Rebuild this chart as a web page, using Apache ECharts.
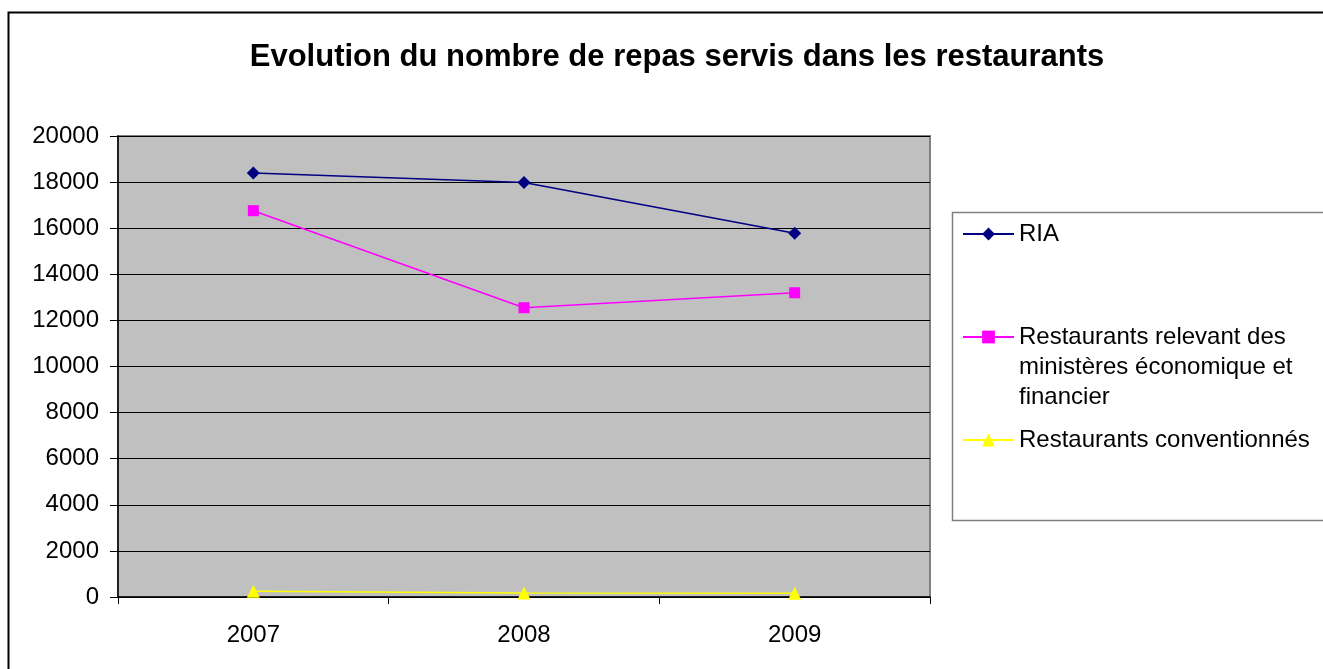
<!DOCTYPE html>
<html>
<head>
<meta charset="utf-8">
<script src="https://cdn.jsdelivr.net/npm/echarts@6/dist/echarts.min.js"></script>
<style>
  html, body { margin: 0; padding: 0; background: #fff; }
  #chart { width: 1323px; height: 669px; }
</style>
</head>
<body>
<div id="chart"></div>
<script>
  // données
  var years = ['2007', '2008', '2009'];
  var ria = [18400, 17980, 15780];
  var ministeres = [16760, 12550, 13200];
  var conventionnes = [250, 170, 160];
  var yTicks = [0, 2000, 4000, 6000, 8000, 10000, 12000, 14000, 16000, 18000, 20000];

  var font = '"Liberation Sans", Arial, sans-serif';
  var myChart = echarts.init(document.getElementById('chart'));

  // une légende par série, pour placer chaque entrée comme dans l'original
  function legendAt(name, top, text) {
    return {
      left: 957,
      top: top,
      orient: 'vertical',
      data: [name],
      itemWidth: 51,
      itemHeight: 16,
      itemGap: 0,
      selectedMode: false,
      formatter: function () { return text; },
      textStyle: {
        fontFamily: font,
        fontSize: 24,
        color: '#000',
        lineHeight: 30
      }
    };
  }

  var option = {
    backgroundColor: '#fff',
    animation: false,
    title: {
      text: 'Evolution du nombre de repas servis dans les restaurants',
      left: 672,
      top: 37,
      textAlign: 'center',
      textStyle: {
        fontFamily: font,
        fontSize: 31,
        fontWeight: 'bold',
        color: '#000'
      }
    },
    graphic: [{
      type: 'rect',
      shape: { x: 8.5, y: 12.5, width: 1400, height: 700 },
      style: { fill: 'none', stroke: '#000', lineWidth: 2 },
      silent: true,
      z: -1
    }, {
      type: 'rect',
      shape: { x: 952.5, y: 212.5, width: 500, height: 308 },
      style: { fill: '#fff', stroke: '#808080', lineWidth: 1.5 },
      silent: true,
      z: -1
    }],
    legend: [
      legendAt('RIA', 214, 'RIA'),
      legendAt('Restaurants relevant des ministères économique et financier', 257,
        '\n\nRestaurants relevant des\nministères économique et\nfinancier'),
      legendAt('Restaurants conventionnés', 420, 'Restaurants conventionnés')
    ],
    grid: {
      left: 118,
      top: 136,
      right: 393,
      bottom: 72,
      show: true,
      backgroundColor: '#c0c0c0',
      borderColor: '#808080',
      borderWidth: 2
    },
    xAxis: {
      type: 'category',
      data: years,
      boundaryGap: true,
      axisLine: { lineStyle: { color: '#000', width: 1.5 } },
      axisTick: { show: true, length: 7, lineStyle: { color: '#000' } },
      axisLabel: { fontFamily: font, fontSize: 24, color: '#000', margin: 26 },
      splitLine: { show: false }
    },
    yAxis: {
      type: 'value',
      min: 0,
      max: 20000,
      interval: 2000,
      axisLine: { show: true, lineStyle: { color: '#000', width: 1.5 } },
      axisTick: { show: true, length: 8, lineStyle: { color: '#000' } },
      axisLabel: {
        fontFamily: font,
        fontSize: 24,
        color: '#000',
        margin: 19,
        formatter: function (v) { return yTicks.indexOf(v) >= 0 ? String(v) : ''; }
      },
      splitLine: { lineStyle: { color: '#000', width: 1 } }
    },
    series: [{
      name: 'RIA',
      type: 'line',
      data: ria,
      symbol: 'diamond',
      symbolSize: 13,
      itemStyle: { color: '#000080' },
      lineStyle: { color: '#000080', width: 1.5 }
    }, {
      name: 'Restaurants relevant des ministères économique et financier',
      type: 'line',
      data: ministeres,
      symbol: 'rect',
      symbolSize: 11,
      itemStyle: { color: '#ff00ff' },
      lineStyle: { color: '#ff00ff', width: 1.5 }
    }, {
      name: 'Restaurants conventionnés',
      type: 'line',
      data: conventionnes,
      symbol: 'triangle',
      symbolSize: 13,
      itemStyle: { color: '#ffff00' },
      lineStyle: { color: '#ffff00', width: 1.5 }
    }]
  };

  myChart.setOption(option);
</script>
</body>
</html>
